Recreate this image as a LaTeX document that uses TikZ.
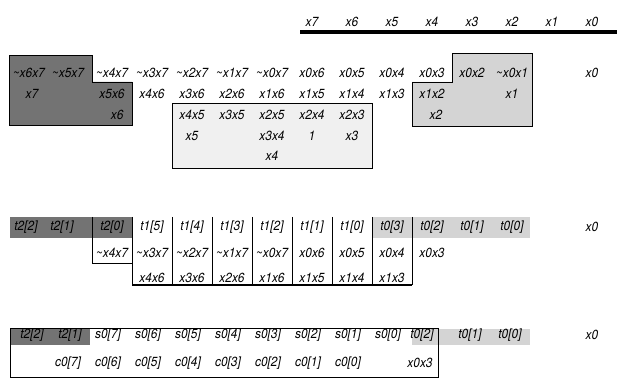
\documentclass[tikz,border=0pt]{standalone}
\usepackage{fontspec}
\setmainfont{TeX Gyre Heros}[FakeStretch=0.9]
\newcommand{\nt}{\textasciitilde}
\tikzset{
  lbl/.style={font=\fontsize{9.4}{10}\selectfont\itshape, inner sep=1pt},
  darkfill/.style={fill=black!55},
  lightfill/.style={fill=black!17},
  palefill/.style={fill=black!6},
}
\begin{document}
\begin{tikzpicture}[every node/.style={lbl}]
\useasboundingbox (0,0) rectangle (15.425,-9.475);
% shaded regions of the top part
\filldraw[darkfill, thin] (0.23,-1.38) -- (2.3,-1.38) -- (2.3,-2.05) -- (3.3,-2.05) -- (3.3,-3.13) -- (0.23,-3.13) -- cycle;
\filldraw[lightfill, thin] (11.3,-1.33) -- (13.3,-1.33) -- (13.3,-3.15) -- (10.3,-3.15) -- (10.3,-2.05) -- (11.3,-2.05) -- cycle;
\filldraw[palefill, thin] (4.3,-2.58) rectangle (9.3,-4.2);
% header
\node (h7) at (7.8,-0.55) {x7};
\node (h6) at (8.8,-0.55) {x6};
\node (h5) at (9.8,-0.55) {x5};
\node (h4) at (10.8,-0.55) {x4};
\node (h3) at (11.8,-0.55) {x3};
\node (h2) at (12.8,-0.55) {x2};
\node (h1) at (13.8,-0.55) {x1};
\node (h0) at (14.8,-0.55) {x0};
\draw[line width=2.2pt] (7.5,-0.8) -- (15.425,-0.8);
% partial products
\node (m67) at (0.72,-1.83) {\nt x6x7};
\node (m57) at (1.7,-1.83) {\nt x5x7};
\node (m47) at (2.8,-1.83) {\nt x4x7};
\node (m37) at (3.8,-1.83) {\nt x3x7};
\node (m27) at (4.8,-1.83) {\nt x2x7};
\node (m17) at (5.8,-1.83) {\nt x1x7};
\node (m07) at (6.8,-1.83) {\nt x0x7};
\node (p06) at (7.8,-1.83) {x0x6};
\node (p05) at (8.8,-1.83) {x0x5};
\node (p04) at (9.8,-1.83) {x0x4};
\node (p03) at (10.8,-1.83) {x0x3};
\node (p02) at (11.8,-1.83) {x0x2};
\node (m01) at (12.8,-1.83) {\nt x0x1};
\node (q0) at (14.8,-1.83) {x0};
\node (q7) at (0.8,-2.35) {x7};
\node (p56) at (2.8,-2.35) {x5x6};
\node (p46) at (3.8,-2.35) {x4x6};
\node (p36) at (4.8,-2.35) {x3x6};
\node (p26) at (5.8,-2.35) {x2x6};
\node (p16) at (6.8,-2.35) {x1x6};
\node (p15) at (7.8,-2.35) {x1x5};
\node (p14) at (8.8,-2.35) {x1x4};
\node (p13) at (9.8,-2.35) {x1x3};
\node (p12) at (10.8,-2.35) {x1x2};
\node (q1) at (12.8,-2.35) {x1};
\node (q6) at (2.93,-2.88) {x6};
\node (p45) at (4.8,-2.88) {x4x5};
\node (p35) at (5.8,-2.88) {x3x5};
\node (p25) at (6.8,-2.88) {x2x5};
\node (p24) at (7.8,-2.88) {x2x4};
\node (p23) at (8.8,-2.88) {x2x3};
\node (q2) at (10.9,-2.88) {x2};
\node (q5) at (4.8,-3.4) {x5};
\node (p34) at (6.8,-3.4) {x3x4};
\node (one) at (7.8,-3.4) {1};
\node (q3) at (8.8,-3.4) {x3};
\node (q4) at (6.8,-3.9) {x4};
% first reduction
\fill[darkfill] (0.25,-5.42) rectangle (3.3,-5.95);
\fill[lightfill] (9.3,-5.42) rectangle (13.25,-5.95);
\draw (2.3,-5.42) -- (2.3,-6.58) -- (3.3,-6.58);
\draw (3.3,-5.42) -- (3.3,-7.13);
\draw (4.3,-5.42) -- (4.3,-7.13);
\draw (5.3,-5.42) -- (5.3,-7.13);
\draw (6.3,-5.42) -- (6.3,-7.13);
\draw (7.3,-5.42) -- (7.3,-7.13);
\draw (8.3,-5.42) -- (8.3,-7.13);
\draw (9.3,-5.42) -- (9.3,-7.13);
\draw (10.3,-5.42) -- (10.3,-7.13);
\draw[line width=1pt] (3.3,-7.13) -- (10.3,-7.13);
\node (t22) at (0.65,-5.68) {t2[2]};
\node (t21) at (1.55,-5.68) {t2[1]};
\node (t20) at (2.8,-5.68) {t2[0]};
\node (t15) at (3.8,-5.68) {t1[5]};
\node (t14) at (4.8,-5.68) {t1[4]};
\node (t13) at (5.8,-5.68) {t1[3]};
\node (t12) at (6.8,-5.68) {t1[2]};
\node (t11) at (7.8,-5.68) {t1[1]};
\node (t10) at (8.8,-5.68) {t1[0]};
\node (t03) at (9.8,-5.68) {t0[3]};
\node (t02) at (10.8,-5.68) {t0[2]};
\node (t01) at (11.8,-5.68) {t0[1]};
\node (t00) at (12.8,-5.68) {t0[0]};
\node (w0) at (14.8,-5.68) {x0};
\node (u47) at (2.8,-6.33) {\nt x4x7};
\node (u37) at (3.8,-6.33) {\nt x3x7};
\node (u27) at (4.8,-6.33) {\nt x2x7};
\node (u17) at (5.8,-6.33) {\nt x1x7};
\node (u07) at (6.8,-6.33) {\nt x0x7};
\node (u06) at (7.8,-6.33) {x0x6};
\node (u05) at (8.8,-6.33) {x0x5};
\node (u04) at (9.8,-6.33) {x0x4};
\node (u03) at (10.8,-6.33) {x0x3};
\node (v46) at (3.8,-6.95) {x4x6};
\node (v36) at (4.8,-6.95) {x3x6};
\node (v26) at (5.8,-6.95) {x2x6};
\node (v16) at (6.8,-6.95) {x1x6};
\node (v15) at (7.8,-6.95) {x1x5};
\node (v14) at (8.8,-6.95) {x1x4};
\node (v13) at (9.8,-6.95) {x1x3};
% second reduction
\fill[darkfill] (0.25,-8.2) rectangle (2.25,-8.62);
\fill[lightfill] (10.3,-8.22) rectangle (13.25,-8.62);
\draw (0.25,-8.2) rectangle (10.95,-9.42);
\node (b22) at (0.8,-8.38) {t2[2]};
\node (b21) at (1.75,-8.38) {t2[1]};
\node (s07) at (2.7,-8.38) {s0[7]};
\node (s06) at (3.7,-8.38) {s0[6]};
\node (s05) at (4.7,-8.38) {s0[5]};
\node (s04) at (5.7,-8.38) {s0[4]};
\node (s03) at (6.7,-8.38) {s0[3]};
\node (s02) at (7.7,-8.38) {s0[2]};
\node (s01) at (8.7,-8.38) {s0[1]};
\node (s00) at (9.7,-8.38) {s0[0]};
\node (b02) at (10.55,-8.38) {t0[2]};
\node (b01) at (11.75,-8.38) {t0[1]};
\node (b00) at (12.75,-8.38) {t0[0]};
\node (z0) at (14.8,-8.38) {x0};
\node (c07) at (1.7,-9.08) {c0[7]};
\node (c06) at (2.7,-9.08) {c0[6]};
\node (c05) at (3.7,-9.08) {c0[5]};
\node (c04) at (4.7,-9.08) {c0[4]};
\node (c03) at (5.7,-9.08) {c0[3]};
\node (c02) at (6.7,-9.08) {c0[2]};
\node (c01) at (7.7,-9.08) {c0[1]};
\node (c00) at (8.7,-9.08) {c0[0]};
\node (y03) at (10.5,-9.08) {x0x3};
\end{tikzpicture}
\end{document}
